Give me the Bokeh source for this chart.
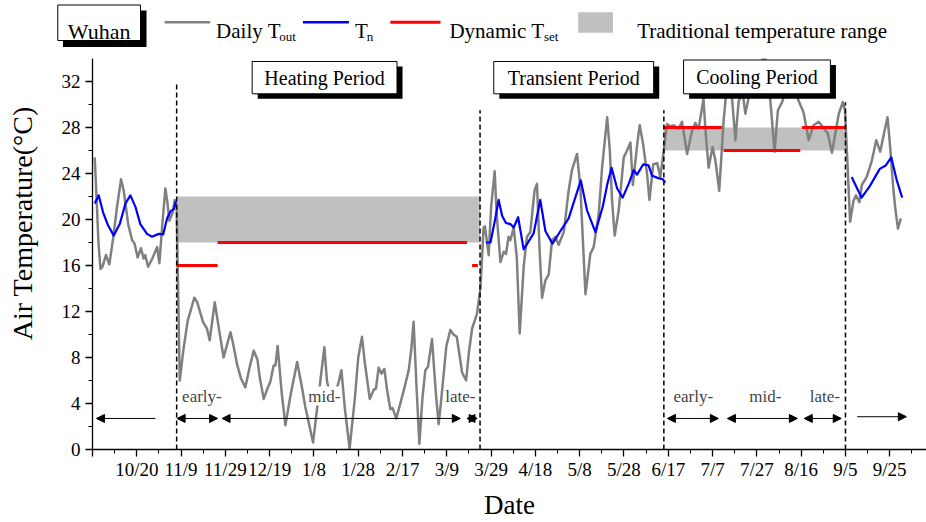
import math
import datetime as dt
from bokeh.plotting import figure
from bokeh.layouts import column, row
from bokeh.models import Range1d, FixedTicker, Label, Arrow, NormalHead
from bokeh.core.properties import value
from bokeh.embed import file_html
from bokeh.resources import INLINE

# ---------------- data ----------------
tick_labels = ["10/20", "11/9", "11/29", "12/19", "1/8", "1/28", "2/17", "3/9", "3/29",
               "4/18", "5/8", "5/28", "6/17", "7/7", "7/27", "8/16", "9/5", "9/25"]

# daily outdoor temperature (x: days after 10/20)
tout_day = [-19.0, -18.2, -17.3, -16.4, -15.5, -13.9, -12.4, -10.5, -9.0, -7.1, -5.9, -3.9, -2.1, -1.0,
            0.4, 1.9, 3.1, 3.8, 5.1, 7.0, 9.2, 10.2, 11.5, 12.9, 13.8, 14.7, 16.2, 17.1, 18.0,
            19.4, 21.0, 23.0, 26.0, 27.3, 29.9, 31.7, 32.9, 35.2, 37.0, 39.2, 42.3, 43.5, 45.3, 47.0,
            49.0, 51.0, 52.8, 54.5, 55.5, 57.3, 59.0, 60.3, 61.8, 62.6, 63.6, 65.4, 67.1, 69.5, 72.4,
            74.6, 76.1, 79.6, 82.9, 84.7, 85.9, 88.5, 91.2, 92.4, 94.0, 96.1, 98.5, 100.0, 101.7,
            103.0, 105.2, 107.0, 108.0, 109.2, 110.5, 111.8, 113.0, 114.5, 115.5, 117.2, 120.5,
            122.8, 124.0, 125.0, 126.3, 127.6, 129.0, 130.3, 131.5, 133.3, 135.0, 136.3, 137.3,
            138.3, 139.8, 141.6, 143.0, 144.5, 146.9, 148.7, 150.0, 151.4, 153.6, 155.2, 156.6,
            157.2, 158.9, 160.0, 161.6, 162.5, 164.2, 165.7, 166.7, 167.9, 168.7, 170.2, 171.6,
            172.9, 174.7, 176.2, 177.7, 179.6, 180.7, 181.9, 183.0, 184.5, 186.0, 187.5, 189.0,
            190.5, 192.8, 195.0, 196.5, 198.8, 200.3, 202.6, 204.8, 206.3, 208.6, 210.1, 212.4,
            213.6, 214.6, 215.8, 217.6, 219.9, 221.4, 222.9, 224.0, 226.0, 227.1, 228.6, 230.4,
            231.5, 233.2, 235.0, 236.4, 237.9, 239.4, 241.0, 242.4, 244.7, 246.2, 248.5, 250.7,
            252.2, 253.7, 255.9, 256.7, 258.2, 260.0, 261.3, 263.0, 265.0, 266.5, 267.8, 268.8,
            270.3, 271.8, 273.6, 274.8, 276.3, 278.5, 281.0, 283.5, 286.1, 288.0, 289.5, 291.4,
            293.5, 296.0, 298.9, 301.1, 303.4, 305.6, 307.9, 310.0, 312.0, 313.9, 317.0, 318.8,
            319.8, 321.0, 322.1, 323.6, 324.8, 326.3, 327.4, 329.6, 331.9, 333.9, 335.7, 337.2,
            339.0, 339.8, 341.7, 342.5, 343.7, 345.0]
tout_val = [25.4, 22.0, 18.0, 15.7, 15.9, 16.9, 16.1, 18.6, 21.0, 23.5, 22.5, 19.6, 18.2, 17.9,
            16.7, 17.5, 16.6, 16.9, 15.9, 16.6, 17.6, 16.2, 19.5, 22.7, 21.5, 19.9, 20.6, 21.7, 21.0,
            6.0, 8.6, 11.2, 13.2, 12.8, 11.1, 10.5, 9.5, 12.8, 10.6, 8.0, 10.2, 9.2, 7.4, 6.2,
            5.4, 7.2, 8.6, 7.8, 6.3, 4.4, 5.3, 5.9, 7.3, 7.3, 9.0, 5.0, 2.1, 4.8, 7.6,
            5.4, 3.7, 0.6, 6.0, 8.9, 5.9, 4.0, 5.9, 6.9, 3.5, 0.1, 4.5, 8.0, 9.8,
            7.5, 4.4, 5.2, 5.3, 7.1, 6.6, 7.0, 5.2, 3.5, 3.6, 2.7, 5.1,
            6.9, 8.8, 11.1, 5.5, 0.5, 4.5, 6.9, 7.2, 9.6, 5.0, 2.2, 4.0,
            6.0, 9.0, 10.4, 10.0, 9.8, 6.7, 6.0, 8.5, 10.5, 11.8, 14.1, 19.3,
            19.4, 16.9, 21.1, 24.2, 20.5, 16.3, 17.2, 17.0, 18.5, 18.2, 19.3, 16.7,
            10.1, 15.9, 18.5, 18.9, 22.5, 23.1, 17.3, 13.2, 14.7, 15.2, 18.2, 18.5,
            17.8, 18.9, 22.5, 24.3, 25.7, 22.8, 13.5, 17.0, 17.6, 20.5, 24.5, 28.9,
            26.0, 21.7, 18.6, 20.8, 25.4, 26.0, 26.7, 23.0, 26.6, 28.2, 26.6, 24.0,
            21.7, 24.8, 24.9, 23.7, 25.9, 28.3, 28.1, 28.2, 27.9, 28.5, 25.7, 27.7,
            28.4, 27.9, 30.5, 28.0, 24.5, 26.3, 25.1, 22.5, 28.6, 31.8, 32.5, 30.5,
            26.9, 30.3, 31.0, 29.2, 30.6, 32.5, 32.8, 34.5, 30.3, 25.9, 29.5, 30.2,
            31.5, 31.8, 30.3, 29.3, 26.9, 28.2, 28.5, 28.0, 27.5, 25.8, 29.2, 30.2,
            29.5, 24.5, 19.8, 21.6, 22.1, 21.5, 23.0, 23.7, 25.1, 26.9, 25.9, 27.3,
            28.9, 27.2, 22.5, 21.0, 19.2, 20.1]

# neutral temperature Tn (NaN separates the three shown parts)
nan = float("nan")
tn_day = [-19.0, -17.2, -15.2, -13.0, -10.4, -7.7, -5.1, -2.9, -0.6, 1.6, 4.6, 6.9, 9.9, 11.9,
          13.7, 15.2, 16.7, 17.7, nan,
          157.6, 159.7, 161.8, 163.4, 165.0, 166.7, 168.7, 170.2, 172.2, 174.7, 179.2, 182.2,
          184.5, 187.7, 191.3, 195.0, 197.5, 200.5, 203.3, 207.1, 210.5, 212.5, 214.4, 216.9,
          219.4, 222.1, 224.4, 225.9, 228.7, 231.1, 232.7, 235.5, 237.5, 238.7, nan,
          322.8, 327.3, 331.0, 335.5, 338.2, 340.7, 343.2, 345.6]
tn_val = [21.4, 22.1, 20.6, 19.5, 18.6, 19.6, 21.4, 22.1, 21.1, 19.6, 18.75, 18.5, 18.75, 18.7,
          20.1, 20.7, 20.9, 21.6, nan,
          18.0, 18.0, 20.0, 21.7, 20.3, 19.7, 19.6, 19.3, 20.2, 17.4, 18.8, 21.7,
          19.0, 17.9, 19.0, 20.1, 21.6, 23.4, 20.8, 18.9, 21.2, 23.1, 24.5, 22.7,
          21.9, 23.1, 24.3, 23.9, 24.8, 24.7, 23.8, 23.6, 23.5, 23.2, nan,
          23.7, 21.9, 22.9, 24.4, 24.7, 25.4, 23.4, 21.9]

# dynamic set-point temperature
tset_start = [18.0, 36.5, 151.4, 238.0, 265.0, 300.4]
tset_end = [36.5, 149.1, 154.0, 264.2, 299.6, 320.0]
tset_val = [16, 18, 16, 28, 26, 28]

# traditional temperature range
band_start = [18.0, 238.0]
band_end = [155.0, 320.0]
band_low = [18, 26]
band_high = [22, 28]

# period boundaries
bound_day = [18.0, 155.0, 238.0, 320.0]
bound_top = [32.0, 29.5, 29.5, 30.2]

# ---------------- helpers ----------------
def to_day(md):
    m, d = map(int, md.split("/"))
    year = 2017 if m >= 10 else 2018
    return (dt.date(year, m, d) - dt.date(2017, 10, 20)).days

tick_days = [to_day(t) for t in tick_labels]
major = [tick_days[0] - 20] + tick_days
minor = [t + 10 for t in major]

SERIF = "Liberation Serif"
W, H = 926, 522
TOP = 58          # height of legend strip
LEFT = 40         # width of y-title strip


def strip(width, height, xr, yr):
    f = figure(width=width, height=height, x_range=Range1d(*xr), y_range=Range1d(*yr),
               output_backend="svg", toolbar_location=None, min_border=0,
               x_axis_location=None, y_axis_location=None)
    f.grid.visible = False
    f.outline_line_color = None
    return f


# ---------------- legend strip ----------------
leg = strip(W, TOP, (0, W), (TOP, 0))

leg.quad(left=[62.5], right=[146], top=[10], bottom=[46.5], fill_color="black", line_color=None)
leg.quad(left=[57.3], right=[140], top=[4.5], bottom=[40], fill_color="white", line_color="black", line_width=1)
leg.text(x=[98.6], y=[31], text=["Wuhan"], text_font=value(SERIF), text_font_size="22px",
         text_align="center", text_baseline="alphabetic")

leg.segment(x0=[164.2], y0=[21.7], x1=[209.7], y1=[21.7], line_color="#808080", line_width=2.5)
leg.text(x=[215.6], y=[30], text=["Daily T"], text_font=value(SERIF), text_font_size="21px",
         text_baseline="alphabetic")
leg.text(x=[278.8], y=[36], text=["out"], text_font=value(SERIF), text_font_size="13px",
         text_baseline="alphabetic")

leg.segment(x0=[302.4], y0=[21.7], x1=[348.5], y1=[21.7], line_color="#0000ff", line_width=2.5)
leg.text(x=[354.4], y=[30], text=["T"], text_font=value(SERIF), text_font_size="21px",
         text_baseline="alphabetic")
leg.text(x=[366.2], y=[36], text=["n"], text_font=value(SERIF), text_font_size="13px",
         text_baseline="alphabetic")

leg.segment(x0=[389.8], y0=[21.7], x1=[440], y1=[21.7], line_color="#ff0000", line_width=3)
leg.text(x=[448.9], y=[30], text=["Dynamic T"], text_font=value(SERIF), text_font_size="21px",
         text_baseline="alphabetic")
leg.text(x=[543.4], y=[36], text=["set"], text_font=value(SERIF), text_font_size="13px",
         text_baseline="alphabetic")

leg.quad(left=[577.7], right=[612.5], top=[11.7], bottom=[32.3], fill_color="#c0c0c0", line_color=None)
leg.text(x=[636.7], y=[30], text=["Traditional temperature range"], text_font=value(SERIF),
         text_font_size="21px", text_baseline="alphabetic")

# ---------------- y-title strip ----------------
ylab = strip(LEFT, H - TOP, (0, LEFT), (H, TOP))
ylab.text(x=[22], y=[253.5], text=["Air Temperature(°C)"], text_font=value(SERIF),
          text_font_size="28px", angle=math.pi / 2, text_align="center", text_baseline="middle")

# ---------------- main chart ----------------
p = figure(width=W - LEFT, height=H - TOP, x_range=Range1d(-20, 356.6), y_range=Range1d(0, 34),
           output_backend="svg", toolbar_location=None,
           min_border_left=92 - LEFT, min_border_right=0, min_border_top=0, min_border_bottom=73)
p.grid.visible = False
p.outline_line_color = None

# traditional range band
p.quad(left=band_start, right=band_end, bottom=band_low, top=band_high,
       fill_color="#c0c0c0", line_color=None)

# outdoor temperature and neutral temperature
p.line(tout_day, tout_val, line_color="#808080", line_width=2.5, line_join="round")
p.line(tn_day, tn_val, line_color="#0000ff", line_width=2.2, line_join="round")

# dynamic set-point
p.segment(x0=tset_start, y0=tset_val, x1=tset_end, y1=tset_val, line_color="#ff0000", line_width=3)

# period boundaries
p.segment(x0=bound_day, y0=[0] * len(bound_day), x1=bound_day, y1=bound_top,
          line_color="black", line_width=1.5, line_dash="5 3")

# period title boxes with shadows
box_text = ["Heating Period", "Transient Period", "Cooling Period"]
box_left = [52.1, 161.2, 246.9]
box_right = [117.5, 233.4, 313.2]
box_top = [33.74, 33.74, 33.87]
box_bottom = [30.93, 30.93, 30.93]
dx, dy = 2.5, 0.44
p.quad(left=[l + dx for l in box_left], right=[r + dx for r in box_right],
       top=[t - dy for t in box_top], bottom=[b - dy for b in box_bottom],
       fill_color="black", line_color=None)
p.quad(left=box_left, right=box_right, top=box_top, bottom=box_bottom,
       fill_color="white", line_color="black", line_width=1)
p.text(x=[(l + r) / 2 for l, r in zip(box_left, box_right)],
       y=[(t + b) / 2 for t, b in zip(box_top, box_bottom)], text=box_text,
       text_font=value(SERIF), text_font_size="20px", text_align="center", text_baseline="middle")

# sub-period arrows and labels
sub_text = ["early-", "mid-", "late-", "early-", "mid-", "late-"]
sub_start = [18.2, 38.5, 149.1, 239.6, 266.7, 301.4]
sub_end = [36.5, 146.1, 153.7, 262.6, 298.3, 318.1]
sub_lab_x = [29.4, 84.7, 146.1, 251.3, 283.8, 310.7]
arrow_y = 2.7
for s, e in zip(sub_start, sub_end):
    p.add_layout(Arrow(x_start=s, y_start=arrow_y, x_end=e, y_end=arrow_y, line_width=1,
                       start=NormalHead(size=8, fill_color="black", line_color="black"),
                       end=NormalHead(size=8, fill_color="black", line_color="black")))
p.add_layout(Arrow(x_start=8.4, y_start=arrow_y, x_end=-18.2, y_end=arrow_y, line_width=1,
                   end=NormalHead(size=8, fill_color="black", line_color="black")))
p.add_layout(Arrow(x_start=325.3, y_start=arrow_y + 0.15, x_end=347.5, y_end=arrow_y + 0.15, line_width=1,
                   end=NormalHead(size=8, fill_color="black", line_color="black")))
for t, x in zip(sub_text, sub_lab_x):
    p.add_layout(Label(x=x, y=4.65, text=t, text_font=SERIF, text_font_size="17px",
                       text_align="center", text_baseline="middle",
                       background_fill_color="white"))

# axes
p.xaxis.ticker = FixedTicker(ticks=major, minor_ticks=minor)
overrides = {major[0]: ""}
overrides.update({d: lab for d, lab in zip(tick_days, tick_labels)})
p.xaxis.major_label_overrides = overrides
p.yaxis.ticker = FixedTicker(ticks=list(range(0, 33, 4)), minor_ticks=list(range(2, 34, 4)))
for ax in (p.xaxis, p.yaxis):
    ax.axis_line_width = 1.3
    ax.axis_line_color = "black"
    ax.major_tick_line_width = 1.3
    ax.minor_tick_line_width = 1.0
    ax.major_tick_out = 7
    ax.major_tick_in = 0
    ax.minor_tick_out = 4
    ax.minor_tick_in = 0
    ax.major_label_text_font = SERIF
    ax.major_label_text_font_size = "19px"
    ax.major_label_text_color = "black"
p.xaxis.major_label_standoff = 2
p.yaxis.major_label_standoff = 5
p.xaxis.axis_label = "Date"
p.xaxis.axis_label_text_font = SERIF
p.xaxis.axis_label_text_font_size = "27px"
p.xaxis.axis_label_text_font_style = "normal"
p.xaxis.axis_label_text_color = "black"
p.xaxis.axis_label_standoff = 7

layout = column(leg, row(ylab, p, spacing=0), spacing=0)
open("out.html", "w").write(file_html(layout, INLINE))
